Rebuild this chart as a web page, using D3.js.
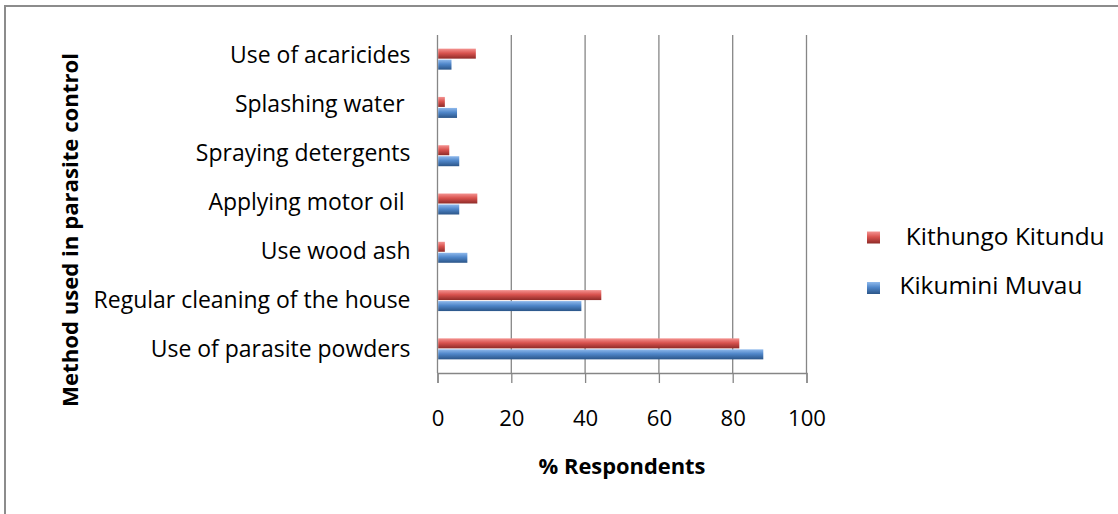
<!DOCTYPE html>
<html>
<head>
<meta charset="utf-8">
<script src="https://cdn.jsdelivr.net/npm/d3@7"></script>
<style>
	body { margin: 0; background: #fff; }
	text { font-family: "Open Sans", sans-serif; fill: #000; }
</style>
</head>
<body>
<svg id="chart"></svg>
<script>
// categories listed top to bottom as in the picture
const methods = [
	"Use of acaricides",
	"Splashing water ",
	"Spraying detergents",
	"Applying motor oil ",
	"Use wood ash",
	"Regular cleaning of the house",
	"Use of parasite powders"
];
const kithungo = [10.2, 1.8, 3.0, 10.6, 1.8, 44.2, 81.6];
const kikumini = [3.6, 5.1, 5.7, 5.7, 7.9, 38.8, 88.1];
const seriesNames = [" Kithungo Kitundu", "Kikumini Muvau"];
const xTicks = [0, 20, 40, 60, 80, 100];

const W = 1118, H = 514;
const plot = { left: 437.5, right: 806.5, top: 35, bottom: 373 };

const svg = d3.select("#chart").attr("width", W).attr("height", H);

// scale a text's font so that it spans the given width
function fitFont(node, target) {
	const base = parseFloat(d3.select(node).attr("font-size"));
	const len = node.getComputedTextLength();
	const size = base * target / len;
	d3.select(node).attr("font-size", size);
	return size;
}

const defs = svg.append("defs");
function barGradient(id, light, mid, dark) {
	const g = defs.append("linearGradient").attr("id", id)
		.attr("x1", 0).attr("y1", 0).attr("x2", 0).attr("y2", 1);
	g.append("stop").attr("offset", "0%").attr("stop-color", light);
	g.append("stop").attr("offset", "45%").attr("stop-color", mid);
	g.append("stop").attr("offset", "100%").attr("stop-color", dark);
}
barGradient("gRed", "#f49391", "#d9534f", "#8e2b28");
barGradient("gBlue", "#8fb9ec", "#4f86c9", "#2b5588");

// outer frame (only left and top edges fall inside the picture)
svg.append("rect")
	.attr("x", 5).attr("y", 6).attr("width", W + 10).attr("height", H + 10)
	.attr("fill", "none").attr("stroke", "#8c8c8c").attr("stroke-width", 2);

const xScale = d3.scaleLinear().domain([0, 100]).range([plot.left, plot.right]);
const yScale = d3.scaleBand().domain(methods).range([plot.top, plot.bottom]);
// the category labels sit on a slightly wider pitch than the bars
const labelScale = d3.scaleBand().domain(methods).range([plot.top - 3.5, plot.bottom + 2.5]);

// gridlines
svg.append("g").selectAll("line").data(xTicks.slice(1)).join("line")
	.attr("x1", d => xScale(d)).attr("x2", d => xScale(d))
	.attr("y1", plot.top).attr("y2", plot.bottom)
	.attr("stroke", "#868686").attr("stroke-width", 1.3);

// vertical axis line
svg.append("line")
	.attr("x1", xScale(0)).attr("x2", xScale(0))
	.attr("y1", plot.top).attr("y2", plot.bottom)
	.attr("stroke", "#868686").attr("stroke-width", 1.3);

// x axis
const xAxis = svg.append("g")
	.attr("transform", "translate(0," + plot.bottom + ")")
	.call(d3.axisBottom(xScale).tickValues(xTicks).tickSize(10).tickPadding(0));
xAxis.select(".domain").attr("stroke", "#868686").attr("stroke-width", 1.3);
xAxis.selectAll(".tick line").attr("stroke", "#868686").attr("stroke-width", 1.3);
const tickText = xAxis.selectAll("text")
	.attr("font-family", null).attr("font-size", 20)
	.attr("y", 426 - plot.bottom).attr("dy", null);
const tickSize = fitFont(tickText.filter(d => d === 100).node(), 38);
tickText.attr("font-size", tickSize);

// y axis labels
const yAxis = svg.append("g")
	.attr("transform", "translate(" + plot.left + ",0)")
	.call(d3.axisLeft(labelScale).tickSize(0).tickPadding(27));
yAxis.select(".domain").remove();
const catText = yAxis.selectAll("text")
	.attr("font-family", null).attr("font-size", 20)
	.attr("dy", 6.5).attr("xml:space", "preserve");
const catSize = fitFont(catText.filter(d => d.startsWith("Regular")).node(), 317);
catText.attr("font-size", catSize);

// bars
const barH = 10;
const groups = svg.append("g").selectAll("g").data(methods).join("g")
	.attr("transform", d => "translate(0," + (yScale(d) + yScale.bandwidth() / 2) + ")");

groups.append("rect")
	.attr("x", xScale(0) + 0.7)
	.attr("y", -barH - 0.5)
	.attr("width", (d, i) => xScale(kithungo[i]) - xScale(0))
	.attr("height", barH)
	.attr("fill", "url(#gRed)");

groups.append("rect")
	.attr("x", xScale(0) + 0.7)
	.attr("y", 0.5)
	.attr("width", (d, i) => xScale(kikumini[i]) - xScale(0))
	.attr("height", barH)
	.attr("fill", "url(#gBlue)");

// axis titles
const xTitle = svg.append("text")
	.attr("x", 622).attr("y", 474)
	.attr("text-anchor", "middle")
	.attr("font-size", 18).attr("font-weight", "bold")
	.text("% Respondents");
fitFont(xTitle.node(), 167);

const yTitle = svg.append("text")
	.attr("transform", "translate(78,230) rotate(-90)")
	.attr("text-anchor", "middle")
	.attr("font-size", 18).attr("font-weight", "bold")
	.text("Method used in parasite control");
fitFont(yTitle.node(), 354);

// legend
const legend = svg.append("g");
const legendFills = ["url(#gRed)", "url(#gBlue)"];
const swatchY = [237.5, 288];
const labelY = [245, 293.5];
seriesNames.forEach(function(name, i) {
	legend.append("rect")
		.attr("x", 867).attr("y", swatchY[i] - 6).attr("width", 13).attr("height", 12)
		.attr("fill", legendFills[i]);
	const t = legend.append("text")
		.attr("x", 899.5).attr("y", labelY[i])
		.attr("font-size", 20)
		.attr("xml:space", "preserve")
		.text(name);
	if (i === 1) fitFont(t.node(), 183);
});
legend.selectAll("text").attr("font-size", legend.selectAll("text").filter((d, i) => i === 1).attr("font-size"));
</script>
</body>
</html>
